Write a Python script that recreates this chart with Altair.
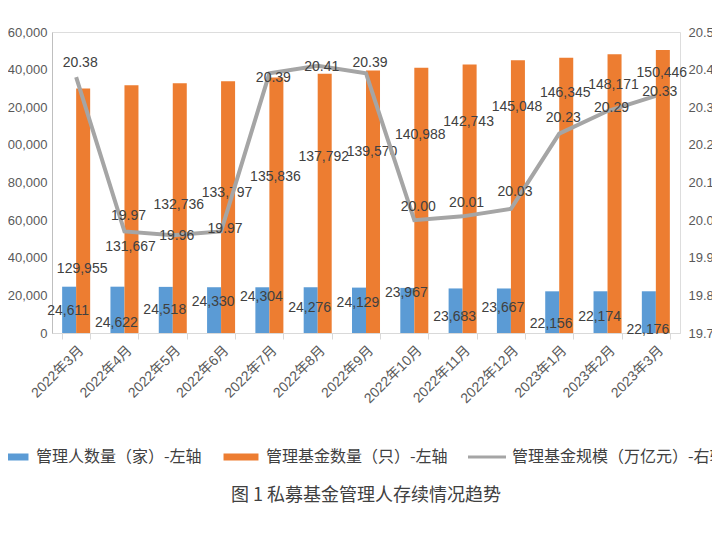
import altair as alt
import pandas as pd

# ---------------- data ----------------
months = ["2022年3月", "2022年4月", "2022年5月", "2022年6月", "2022年7月", "2022年8月",
          "2022年9月", "2022年10月", "2022年11月", "2022年12月", "2023年1月", "2023年2月", "2023年3月"]
managers = [24611, 24622, 24518, 24330, 24304, 24276, 24129, 23967, 23683, 23667, 22156, 22174, 22176]
funds = [129955, 131667, 132736, 133797, 135836, 137792, 139570, 140988, 142743, 145048, 146345, 148171, 150446]
fund_scale = [20.38, 19.97, 19.96, 19.97, 20.39, 20.41, 20.39, 20.00, 20.01, 20.03, 20.23, 20.29, 20.33]

series_names = ["管理人数量（家）-左轴", "管理基金数量（只）-左轴", "管理基金规模（万亿元）-右轴"]
series_colors = ["#5B9BD5", "#ED7D31", "#A5A5A5"]

left_ticks = [0, 20000, 40000, 60000, 80000, 100000, 120000, 140000, 160000]
right_ticks = [19.70, 19.80, 19.90, 20.00, 20.10, 20.20, 20.30, 20.40, 20.50]

# hand-placed label nudges of the source chart (pixels, positive = downwards)
manager_label_nudge = [24, 36, 23, 15, 10, 21, 15, 5, 29, 20, 33, 26, 39]
fund_label_nudge = [180, 162, 122, 112, 100, 83, 82, 67, 58, 47, 35, 31, 23]
scale_label_nudge = [-14, -15, 1, -2, 5, 1, -10, -13, -13, -17, -16, -3, -4]

# ---------------- layout ----------------
PLOT_W, PLOT_H = 628, 301
LEFT_DOMAIN = [left_ticks[0], left_ticks[-1]]
RIGHT_DOMAIN = [right_ticks[0], right_ticks[-1]]
left_per_px = (LEFT_DOMAIN[1] - LEFT_DOMAIN[0]) / PLOT_H
right_per_px = (RIGHT_DOMAIN[1] - RIGHT_DOMAIN[0]) / PLOT_H

LABEL_FONT = "Liberation Sans, Arial, Noto Sans CJK SC"
CJK_FONT = "Noto Sans CJK SC"

rows = []
for m, v, n in zip(months, managers, manager_label_nudge):
    rows.append({"month": m, "series": series_names[0], "value": v, "label_y": v - n * left_per_px})
for m, v, n in zip(months, funds, fund_label_nudge):
    rows.append({"month": m, "series": series_names[1], "value": v, "label_y": v - n * left_per_px})
bar_df = pd.DataFrame(rows)

line_df = pd.DataFrame({
    "month": months,
    "series": series_names[2],
    "value": fund_scale,
    "label_y": [v - n * right_per_px for v, n in zip(fund_scale, scale_label_nudge)],
})
legend_df = pd.DataFrame({"series": series_names})

color_scale = alt.Scale(domain=series_names, range=series_colors)
x_scale = alt.Scale(paddingInner=0.42, paddingOuter=0.21)
xoff_scale = alt.Scale(paddingInner=0, paddingOuter=0)
left_scale = alt.Scale(domain=LEFT_DOMAIN, nice=False, zero=True)
right_scale = alt.Scale(domain=RIGHT_DOMAIN, nice=False, zero=False)

x_axis = alt.Axis(title=None, labelAngle=-45, labelFontSize=14, labelFont=LABEL_FONT,
                  labelColor="#595959", domainColor="#D9D9D9", tickColor="#D9D9D9",
                  tickSize=6, tickBand="extent", labelPadding=4, grid=False)
left_axis = alt.Axis(title=None, values=left_ticks, format=",.0f", ticks=False, grid=False,
                     domainColor="#BFBFBF", labelFontSize=13, labelFont=LABEL_FONT,
                     labelColor="#595959", labelPadding=5, labelOverlap=False)
right_axis = alt.Axis(title=None, orient="right", values=right_ticks, format=".2f",
                      ticks=False, domain=False, grid=False, labelFontSize=13,
                      labelFont=LABEL_FONT, labelColor="#595959", labelPadding=8,
                      labelOverlap=False)

legend_spec = dict(orient="none", legendX=-60, legendY=406, direction="horizontal", title=None,
                   labelFontSize=16, labelFont=CJK_FONT, labelColor="#404040", symbolSize=1444,
                   symbolOpacity=1, symbolStrokeWidth=0, columnPadding=20, labelOffset=6,
                   padding=0, labelLimit=400)

legend_layer = alt.Chart(legend_df).mark_point(filled=True, opacity=0).encode(
    color=alt.Color("series:N", scale=color_scale, legend=alt.Legend(**legend_spec)),
    shape=alt.Shape("series:N", scale=alt.Scale(
        domain=series_names,
        range=["M-0.92,-0.18H0.92V0.18H-0.92Z", "M-0.92,-0.18H0.92V0.18H-0.92Z",
               "M-1,-0.08H1V0.08H-1Z"]), legend=alt.Legend(**legend_spec)),
)

bars = alt.Chart(bar_df).mark_bar().encode(
    x=alt.X("month:N", sort=months, scale=x_scale, axis=x_axis),
    xOffset=alt.XOffset("series:N", sort=series_names[:2], scale=xoff_scale),
    y=alt.Y("value:Q", scale=left_scale, axis=left_axis),
    color=alt.Color("series:N", scale=color_scale),
)

bar_labels = alt.Chart(bar_df).mark_text(
    font=LABEL_FONT, fontSize=14, color="#404040", baseline="middle", align="center", dx=-1
).encode(
    x=alt.X("month:N", sort=months, axis=x_axis),
    xOffset=alt.XOffset("series:N", sort=series_names[:2]),
    y=alt.Y("label_y:Q", axis=left_axis),
    text=alt.Text("value:Q", format=","),
)

left_layer = alt.layer(legend_layer, bars, bar_labels)

line = alt.Chart(line_df).mark_line(strokeWidth=4, color="#A5A5A5").encode(
    x=alt.X("month:N", sort=months, axis=x_axis),
    y=alt.Y("value:Q", scale=right_scale, axis=right_axis),
)

line_labels = alt.Chart(line_df).mark_text(
    font=LABEL_FONT, fontSize=14, color="#404040", baseline="middle", align="center", dx=4
).encode(
    x=alt.X("month:N", sort=months, axis=x_axis),
    y=alt.Y("label_y:Q", axis=right_axis),
    text=alt.Text("value:Q", format=".2f"),
)

right_layer = alt.layer(line, line_labels)

chart = alt.layer(left_layer, right_layer).resolve_scale(y="independent").properties(
    width=PLOT_W,
    height=PLOT_H,
    autosize=alt.AutoSizeParams(type="none"),
    padding={"left": 44, "top": 24, "right": 32, "bottom": 190},
    title=alt.Title("图 1 私募基金管理人存续情况趋势", orient="bottom", anchor="middle",
                    fontSize=18, font=CJK_FONT, fontWeight="normal", color="#404040", offset=22),
).configure_view(stroke=None).configure(background="white")

chart.save("out.html", embed_options={"renderer": "svg", "actions": False})
